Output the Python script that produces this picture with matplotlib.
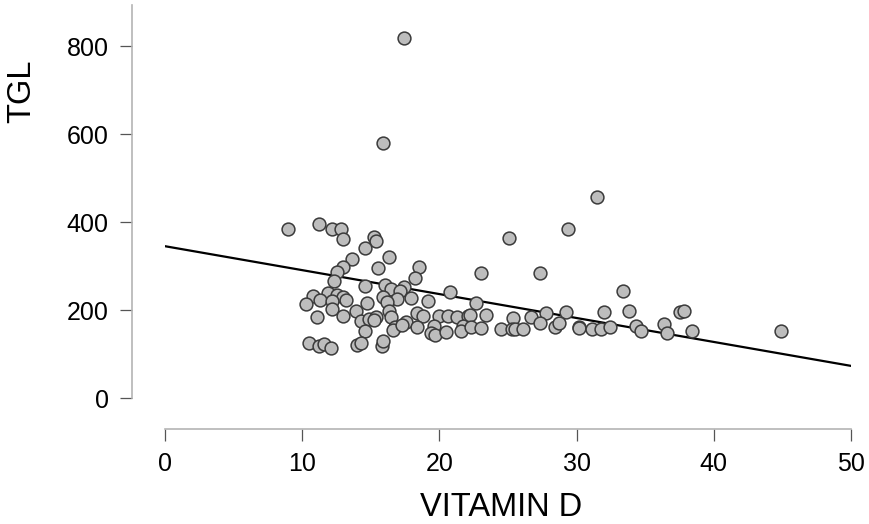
import numpy as np
import matplotlib.pyplot as plt

# scatter of vitamin D vs TGL with fitted line
vitamin_d = [9.0, 11.2, 12.2, 12.8, 13.0, 15.2, 15.4, 14.6, 16.3, 13.6,
             13.0, 12.5, 15.5, 18.5, 18.2, 12.3, 14.6, 16.0, 16.5, 17.4,
             17.1, 20.8, 10.8, 11.9, 12.5, 13.0, 10.3, 11.3, 12.2, 13.2,
             15.9, 16.9, 17.9, 19.2, 14.7, 16.2, 12.2, 13.9, 16.3, 11.1,
             13.0, 14.3, 14.9, 15.4, 15.2, 16.5, 17.6, 18.4, 18.8, 20.0,
             20.6, 21.3, 22.1, 16.8, 16.6, 17.3, 18.4, 19.6, 21.7, 14.6,
             19.4, 19.7, 20.5, 21.6, 10.5, 11.2, 11.6, 12.1, 14.0, 14.3,
             15.8, 15.9, 15.9, 17.4,
             31.5, 25.1, 29.4, 23.0, 27.3, 33.4, 22.7, 22.2, 23.4, 25.4,
             26.7, 27.8, 29.2, 32.0, 33.8, 36.4, 22.3, 23.0, 24.5, 25.3,
             25.5, 26.1, 27.3, 28.4, 28.7, 30.2, 30.2, 31.1, 31.8, 32.4,
             34.3, 34.7, 36.6, 37.5, 37.8, 38.4, 44.9]
tgl = [383, 395, 384, 383, 362, 366, 356, 341, 320, 316,
       298, 286, 295, 298, 273, 265, 254, 257, 247, 252,
       244, 241, 232, 238, 235, 230, 214, 223, 220, 223,
       230, 225, 227, 220, 216, 218, 202, 198, 198, 184,
       186, 175, 180, 184, 177, 184, 173, 193, 186, 186,
       186, 184, 186, 162, 155, 166, 162, 164, 164, 152,
       147, 143, 150, 152, 125, 118, 123, 114, 120, 125,
       118, 130, 580, 818,
       457, 364, 384, 284, 284, 243, 216, 188, 189, 182,
       184, 193, 195, 195, 198, 168, 161, 159, 156, 157,
       157, 156, 171, 162, 171, 161, 158, 157, 156, 162,
       164, 153, 148, 195, 198, 153, 153]

fit_x = [0, 50]
fit_y = [345, 73]

xticks = [0, 10, 20, 30, 40, 50]
yticks = [0, 200, 400, 600, 800]

plt.rcParams['font.family'] = ['Liberation Sans', 'DejaVu Sans']

fig = plt.figure(figsize=(8.69, 5.24), dpi=100)
ax = fig.add_axes([165/869, 126/524, 686/869, 352/524])

ax.plot(fit_x, fit_y, color='black', lw=1.6, zorder=2)
ax.scatter(vitamin_d, tgl, s=85, facecolor='#bdbdbd', edgecolor='#3a3a3a',
           linewidth=1.1, zorder=3, clip_on=False)

ax.set_xlim(0, 50)
ax.set_ylim(0, 800)
ax.set_xticks(xticks)
ax.set_yticks(yticks)

for side in ['top', 'right']:
    ax.spines[side].set_visible(False)
ax.spines['left'].set_position(('outward', 24))
ax.spines['bottom'].set_position(('outward', 22.5))
ax.spines['left'].set_bounds(0, 893)
ax.spines['bottom'].set_bounds(0, 50)
for side in ['left', 'bottom']:
    ax.spines[side].set_color('#b4b4b4')
    ax.spines[side].set_linewidth(1.2)

ax.tick_params(axis='both', length=8.5, width=0.9, color='#555555',
               labelsize=18, labelcolor='black', pad=8)

ax.set_xlabel('VITAMIN D', fontsize=23.5, va='center')
ax.set_ylabel('TGL', fontsize=23.5, va='center')
ax.xaxis.set_label_coords(0.49, -0.31)
ax.yaxis.set_label_coords(-0.2085, 0.872)

fig.savefig('out.png', dpi=100)
